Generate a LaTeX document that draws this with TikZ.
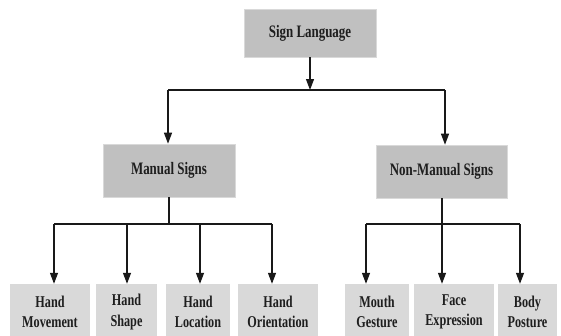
\documentclass[tikz,border=0pt]{standalone}
\usepackage{fontspec}
\newfontfamily\lbl{Liberation Serif}[FakeStretch=0.74]
\usetikzlibrary{arrows.meta}
\definecolor{topgray}{RGB}{192,192,192}
\definecolor{botgray}{RGB}{217,217,217}
\definecolor{txt}{RGB}{30,30,30}
\begin{document}
\begin{tikzpicture}[x=1pt,y=-1pt,
  topbox/.style={rectangle, fill=topgray, draw=topgray!60!white, line width=0.6pt, inner sep=0pt, text=txt,
    font=\lbl\bfseries\fontsize{17.5}{20}\selectfont},
  botbox/.style={rectangle, fill=botgray, inner sep=0pt, text=txt, align=center,
    font=\lbl\bfseries\fontsize{16.5}{20.5}\selectfont},
  conn/.style={line width=1.2pt, draw=black!90},
  arr/.style={conn, -{Triangle[length=11pt,width=8pt]}}]
\useasboundingbox (0,0) rectangle (561,335);
% top level
\node[topbox, minimum width=132pt, minimum height=48pt] (SL) at (310,33) {Sign Language};
% second level
\node[topbox, minimum width=132pt, minimum height=53pt] (MS) at (169,170.5) {Manual Signs};
\node[topbox, minimum width=131pt, minimum height=53pt] (NM) at (441.5,171.5) {Non-Manual Signs};
% bottom level
\node[botbox, minimum width=80pt, minimum height=56pt] (HM) at (50,312) {Hand\\Movement};
\node[botbox, minimum width=61pt, minimum height=56pt] (HS) at (126.5,312) {Hand\\Shape};
\node[botbox, minimum width=64pt, minimum height=56pt] (HL) at (198,312) {Hand\\Location};
\node[botbox, minimum width=80pt, minimum height=56pt] (HO) at (278,312) {Hand\\Orientation};
\node[botbox, minimum width=64pt, minimum height=56pt] (MG) at (377,312) {Mouth\\Gesture};
\node[botbox, minimum width=80pt, minimum height=56pt] (FE) at (454,312) {Face\\Expression};
\node[botbox, minimum width=59pt, minimum height=56pt] (BP) at (527.5,312) {Body\\Posture};
% junction coordinates
\coordinate (j0) at (310,90);
\coordinate (jl) at (168,90);
\coordinate (jr) at (445,90);
\coordinate (m0) at (169,224);
\coordinate (m1) at (54,224);
\coordinate (m2) at (127,224);
\coordinate (m3) at (200,224);
\coordinate (m4) at (272,224);
\coordinate (n0) at (442,224);
\coordinate (n1) at (366,224);
\coordinate (n3) at (520,224);
% connectors
\draw[arr] (SL.south -| j0) -- (j0);
\draw[conn] (jl) -- (jr);
\draw[arr] (jl) -- (jl |- MS.north);
\draw[arr] (jr) -- (jr |- NM.north);
\draw[conn] (MS.south -| m0) -- (m0);
\draw[conn] (m1) -- (m4);
\draw[arr] (m1) -- (m1 |- HM.north);
\draw[arr] (m2) -- (m2 |- HS.north);
\draw[arr] (m3) -- (m3 |- HL.north);
\draw[arr] (m4) -- (m4 |- HO.north);
\draw[conn] (NM.south -| n0) -- (n0);
\draw[conn] (n1) -- (n3);
\draw[arr] (n1) -- (n1 |- MG.north);
\draw[arr] (n0) -- (n0 |- FE.north);
\draw[arr] (n3) -- (n3 |- BP.north);
\end{tikzpicture}
\end{document}
